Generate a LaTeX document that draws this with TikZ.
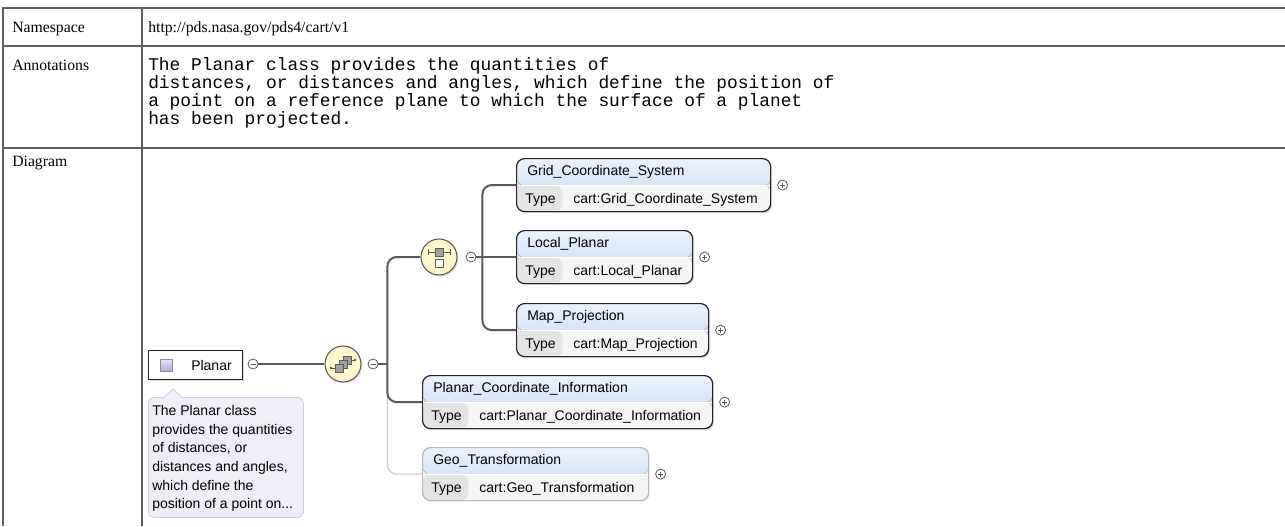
\documentclass[tikz,border=0pt]{standalone}
\usepackage{fontspec}
\setmainfont{Liberation Serif}
\setsansfont{Liberation Sans}
\setmonofont{Liberation Mono}
\usepackage{tikz}
\usetikzlibrary{positioning,calc,shadows}
\definecolor{xstbl}{RGB}{95,95,95}
\definecolor{xsline}{RGB}{90,90,90}
\definecolor{xsedge}{RGB}{35,35,35}
\definecolor{xsopt}{RGB}{185,185,185}
\definecolor{xshdtop}{RGB}{236,242,252}
\definecolor{xshdbot}{RGB}{196,214,240}
\definecolor{xsrow}{RGB}{245,245,245}
\definecolor{xscell}{RGB}{228,228,228}
\definecolor{xscomp}{RGB}{252,248,204}
\definecolor{xssq}{RGB}{160,160,160}
\definecolor{xstip}{RGB}{240,237,246}
\definecolor{xstipedge}{RGB}{208,204,222}
\definecolor{xslav}{RGB}{185,170,225}
\tikzset{
  tbl/.style={draw=xstbl, line width=1pt},
  cell/.style={font=\fontsize{11.8}{13}\selectfont, inner sep=0pt, anchor=base west},
  anntxt/.style={font=\ttfamily\fontsize{13.4}{13.5}\selectfont, inner sep=0pt,
    align=left, anchor=north west},
  hdtxt/.style={font=\sffamily\fontsize{10.5}{12}\selectfont, inner sep=0pt, anchor=west},
  tiptxt/.style={font=\sffamily\fontsize{10.5}{14}\selectfont, inner sep=0pt,
    align=left, anchor=north west},
  elembase/.style={line width=0.9pt, rounded corners=6pt, inner sep=0pt,
    minimum height=39.75pt, anchor=north west,
    path picture={
      \fill[top color=xshdtop, bottom color=xshdbot] (path picture bounding box.north west)
        rectangle ($(path picture bounding box.north east)+(0,27)$);
      \fill[xsrow] ($(path picture bounding box.north west)+(0,27)$)
        rectangle (path picture bounding box.south east);
      \fill[xscell] ($(path picture bounding box.north west)+(0,27)$)
        rectangle ($(path picture bounding box.south west)+(46,0)$);
      \draw[white, line width=0.6pt] ($(path picture bounding box.north west)+(0,27)$)
        -- ($(path picture bounding box.north east)+(0,27)$);
    }},
  elem/.style={elembase, draw=xsedge,
    drop shadow={shadow xshift=1.2pt, shadow yshift=-1.2pt, opacity=0.3}},
  optelem/.style={elembase, draw=xsopt,
    drop shadow={shadow xshift=1.2pt, shadow yshift=-1.2pt, opacity=0.1}},
  classbox/.style={draw=xsedge, line width=0.9pt, fill=white, inner sep=0pt,
    minimum width=70.5pt, minimum height=21.75pt, anchor=north west,
    drop shadow={shadow xshift=1.2pt, shadow yshift=-1.2pt, opacity=0.3}},
  icon/.style={draw=xsline!70, line width=0.4pt, top color=xslav!35, bottom color=xslav,
    minimum size=9pt, inner sep=0pt},
  compo/.style={circle, draw=xsline, fill=xscomp, line width=0.8pt, minimum size=27pt,
    inner sep=0pt, drop shadow={shadow xshift=1pt, shadow yshift=-1pt, opacity=0.25}},
  signc/.style={circle, draw=xsline, fill=white, line width=0.6pt, minimum size=7.5pt,
    inner sep=0pt},
  minusc/.style={signc, path picture={\draw[line width=0.6pt]
      ($(path picture bounding box.center)+(-2.5,0)$) -- ++(5,0);}},
  plusc/.style={signc, path picture={\draw[line width=0.6pt]
      ($(path picture bounding box.center)+(-2.5,0)$) -- ++(5,0)
      ($(path picture bounding box.center)+(0,-2.5)$) -- ++(0,5);}},
  tipbox/.style={draw=xstipedge, fill=xstip, line width=0.6pt, rounded corners=4pt,
    minimum width=116.25pt, minimum height=90pt, anchor=north west, inner sep=0pt},
  conn/.style={draw=xsline, line width=1.5pt},
  optconn/.style={draw=xsopt!80, line width=0.8pt},
}
\begin{document}
\begin{tikzpicture}[x=0.75pt,y=-0.75pt]
  \useasboundingbox (0,0) rectangle (1285,526);
  % table frame
  \draw[tbl] (3,526) -- (3,8) -- (1285,8);
  \draw[tbl] (3,46) -- (1285,46);
  \draw[tbl] (3,148) -- (1285,148);
  \draw[tbl] (142,8) -- (142,526);
  \node[cell] (nslbl) at (12,32) {Namespace};
  \node[cell] (nsval) at (148,32) {http://pds.nasa.gov/pds4/cart/v1};
  \node[cell] (annlbl) at (12,70) {Annotations};
  \node[anntxt] (annval) at (148,57) {The Planar class provides the quantities of\\
    distances, or distances and angles, which define the position of\\
    a point on a reference plane to which the surface of a planet\\
    has been projected.};
  \node[cell] (diaglbl) at (12,166) {Diagram};

  % the Planar class and its note
  \node[classbox] (planar) at (148,350) {};
  \node[icon] (planaricon) at ($(planar.west)+(18,0)$) {};
  \node[hdtxt] (planarname) at ($(planar.west)+(43,0)$) {Planar};
  \node[tipbox] (tip) at (148,397) {};
  \fill[xstip] ($(tip.north west)+(16,1)$) -- ($(tip.north west)+(25,-8)$)
    -- ($(tip.north west)+(34,1)$) -- cycle;
  \draw[xstipedge, line width=0.6pt] ($(tip.north west)+(16,0)$)
    -- ($(tip.north west)+(25,-8)$) -- ($(tip.north west)+(34,0)$);
  \node[tiptxt] (tiptext) at ($(tip.north west)+(4,8)$) {The Planar class\\
    provides the quantities\\of distances, or\\distances and angles,\\
    which define the\\position of a point on...};

  % compositors
  \node[minusc] (pmin) at (253,364) {};
  \node[compo] (seq) at (343,364) {};
  \node[minusc] (smin) at (373,364) {};
  \node[compo] (choice) at (439,257) {};
  \node[minusc] (cmin) at (471,257) {};
  \begin{scope}[shift={(seq.center)}]
    \draw[xsline, line width=0.6pt] (-12,4) -- (-6,4) (6,-4) -- (12,-4);
    \fill[xsline] (-12,4) circle (1.1pt) (12,-4) circle (1.1pt);
    \foreach \a/\b in {4/-4,0/0,-4/4}
      \draw[fill=xssq, draw=xsline, line width=0.5pt] (\a-4,\b-4) rectangle ++(8,8);
  \end{scope}
  \begin{scope}[shift={(choice.center)}]
    \draw[xsline, line width=0.7pt] (-11,-5) -- (11,-5) (-11,-8) -- (-11,-2) (11,-8) -- (11,-2);
    \draw[fill=xssq, draw=xsline, line width=0.5pt] (-4,-9) rectangle (4,-1);
    \draw[fill=white, draw=xsline, line width=0.6pt] (-4,2) rectangle (4,10);
  \end{scope}

  % elements
  \foreach \nm/\x/\y/\w/\ttl/\st in {
      grid/516/158/190.5pt/Grid\_Coordinate\_System/elem,
      local/516/230/132pt/Local\_Planar/elem,
      map/516/303/144pt/Map\_Projection/elem,
      pci/422/375/217.5pt/Planar\_Coordinate\_Information/elem,
      geo/422/447/169.5pt/Geo\_Transformation/optelem} {
    \node[\st, minimum width=\w] (\nm) at (\x,\y) {};
    \node[hdtxt] (\nm title) at ($(\nm.north west)+(11,14)$) {\ttl};
    \node[hdtxt] (\nm key) at ($(\nm.south west)+(9,-12)$) {Type};
    \node[hdtxt] (\nm type) at ($(\nm.south west)+(57,-12)$) {cart:\ttl};
    \node[plusc, right=4.5pt of \nm] (\nm plus) {};
  }

  % connectors
  \coordinate (sspine) at ($(smin.east)+(9,0)$);
  \coordinate (cspine) at ($(cmin.east)+(6,0)$);
  \draw[conn] (pmin) -- (seq);
  \draw[conn] (smin) -- (sspine);
  \draw[optconn, rounded corners=7pt] (sspine) |- (geo);
  \draw[conn, rounded corners=7pt] (choice) -| (sspine) |- (pci);
  \draw[conn] (cmin) -- (cmin -| local.west);
  \draw[conn, rounded corners=7pt] (grid) -| (cspine) |- (map);
\end{tikzpicture}
\end{document}
